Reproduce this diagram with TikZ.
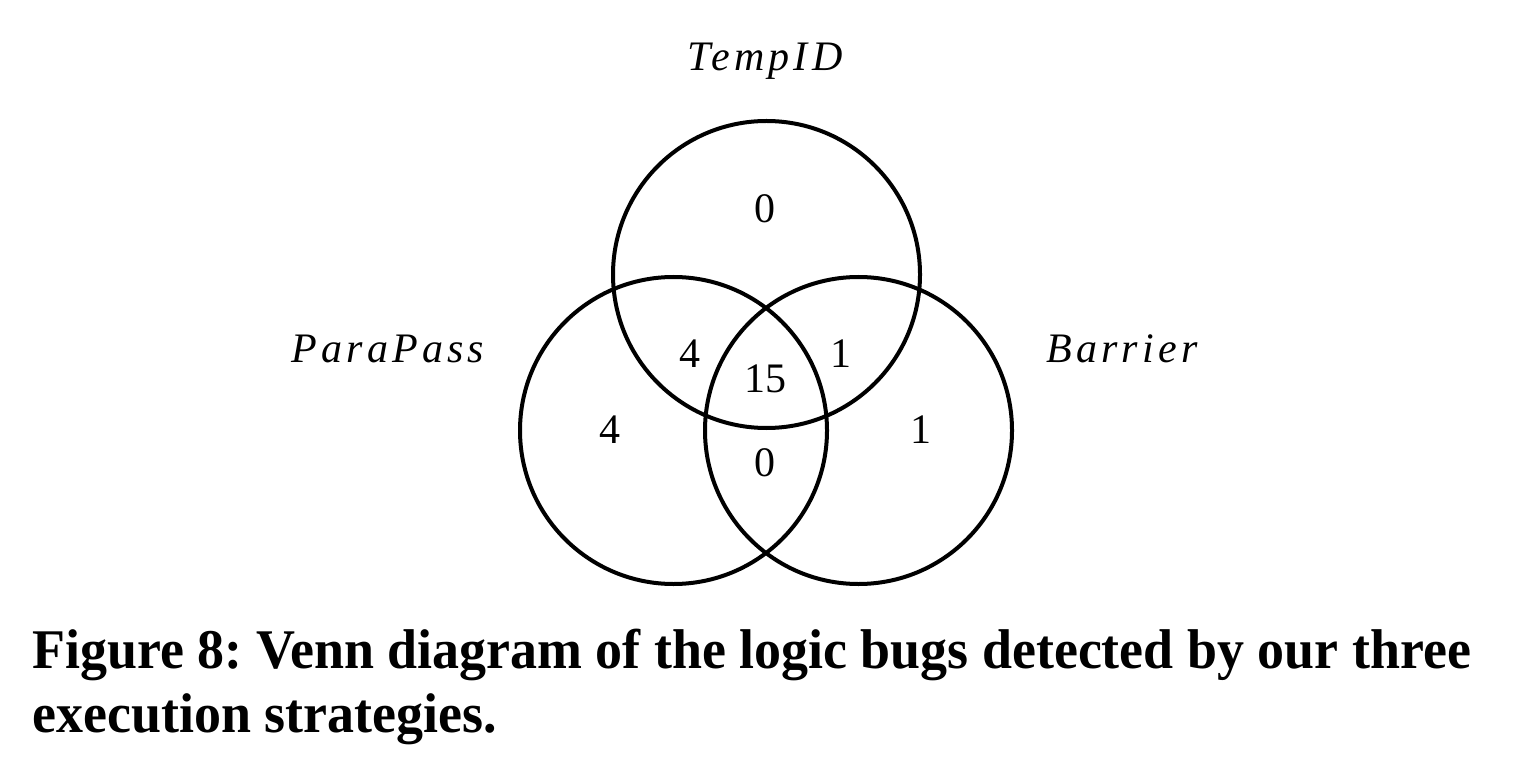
\documentclass[tikz,border=0pt]{standalone}
\usepackage{fontspec}
\setmainfont{Liberation Serif}
\newfontfamily\lblfont[LetterSpace=10]{Liberation Serif}
\frenchspacing
\begin{document}
\begin{tikzpicture}[x=0.5pt,y=-0.5pt,
  venn/.style={draw=black,line width=2pt},
  num/.style={anchor=base,inner sep=0pt,font=\fontsize{21pt}{24pt}\selectfont},
  setlabel/.style={anchor=base,inner sep=0pt,font=\lblfont\itshape\fontsize{21pt}{24pt}\selectfont},
  captext/.style={anchor=base west,inner sep=0pt,font=\bfseries\fontsize{28pt}{32pt}\selectfont}]
\useasboundingbox (0,0) rectangle (1513,780);
\coordinate (ct) at (766.5,274.5);
\coordinate (cl) at (673.5,430.5);
\coordinate (cr) at (858.5,430.5);
\draw[venn] (ct) circle[radius=153.5];
\draw[venn] (cl) circle[radius=153.5];
\draw[venn] (cr) circle[radius=153.5];
\node[setlabel] (lt) at (765,71) {TempID};
\node[setlabel] (ll) at (388,362) {ParaPass};
\node[setlabel] (lr) at (1122,362) {Barrier};
\node[num] (n1) at (765,223) {0};
\node[num] (n2) at (690,367) {4};
\node[num] (n3) at (765,392) {15};
\node[num] (n4) at (841,367) {1};
\node[num] (n5) at (610,443) {4};
\node[num] (n6) at (921,443) {1};
\node[num] (n7) at (765,476) {0};
\node[captext] (c1) at (32,668) {\scalebox{0.963}[1]{Figure 8: Venn diagram of the logic bugs detected by our three}};
\node[captext] (c2) at (32,732) {\scalebox{0.963}[1]{execution strategies.}};
\end{tikzpicture}
\end{document}
